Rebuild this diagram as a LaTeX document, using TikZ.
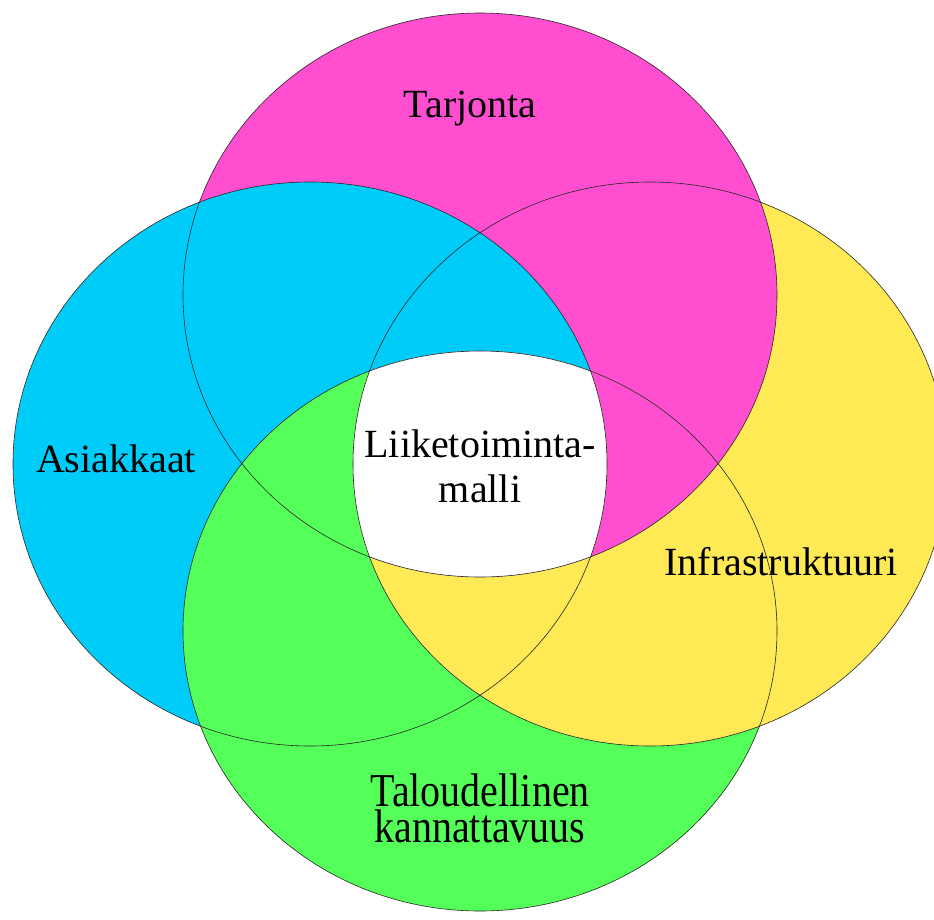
\documentclass[tikz,border=0pt]{standalone}
\usepackage{fontspec}
\setmainfont{Liberation Serif}
\definecolor{cT}{HTML}{FF4FD0}
\definecolor{cL}{HTML}{00CCFA}
\definecolor{cR}{HTML}{FFEA55}
\definecolor{cB}{HTML}{55FF5A}
\def\ellT{(480,295) ellipse [x radius=297pt, y radius=282pt]}
\def\ellL{(310,464) ellipse [x radius=297pt, y radius=282pt]}
\def\ellR{(650,464) ellipse [x radius=297pt, y radius=282pt]}
\def\ellB{(480,631) ellipse [x radius=297pt, y radius=280pt]}
\begin{document}
\begin{tikzpicture}[x=1pt,y=-1pt,
  lbl/.style={font=\fontsize{40}{45}\selectfont, align=center, text=black, inner sep=0pt, anchor=base},
  rim/.style={line width=0.6pt, draw=black!85}]
\useasboundingbox (0,0) rectangle (934,919);
\clip (0,0) rectangle (934,919);
% base fills
\fill[cR] \ellR;
\fill[cT] \ellT;
\fill[cL] \ellL;
\fill[cB] \ellB;
% corrections for the cyclic overlap order
\begin{scope}
  \clip \ellB;
  \fill[cR] \ellR;
  \clip \ellR;
  \fill[cT] \ellT;
  \clip \ellT;
  \clip \ellL;
  \fill[white] (0,0) rectangle (934,919);
\end{scope}
% outlines
\draw[rim] \ellR;
\draw[rim] \ellT;
\draw[rim] \ellL;
\draw[rim] \ellB;
% labels
\node[lbl] (tarjonta) at (470,117) {Tarjonta};
\node[lbl] (asiakkaat) at (116,472) {Asiakkaat};
\node[lbl] (infra) at (781,575) {Infrastruktuuri};
\node[lbl] (malli) at (480,502) {Liiketoiminta-\\malli};
\begin{scope}[shift={(480,842)}, yscale=1.18]
  \node[lbl, transform shape, font=\fontsize{40}{30.5}\selectfont] (talous) at (0,0) {Taloudellinen\\kannattavuus};
\end{scope}
\end{tikzpicture}
\end{document}
